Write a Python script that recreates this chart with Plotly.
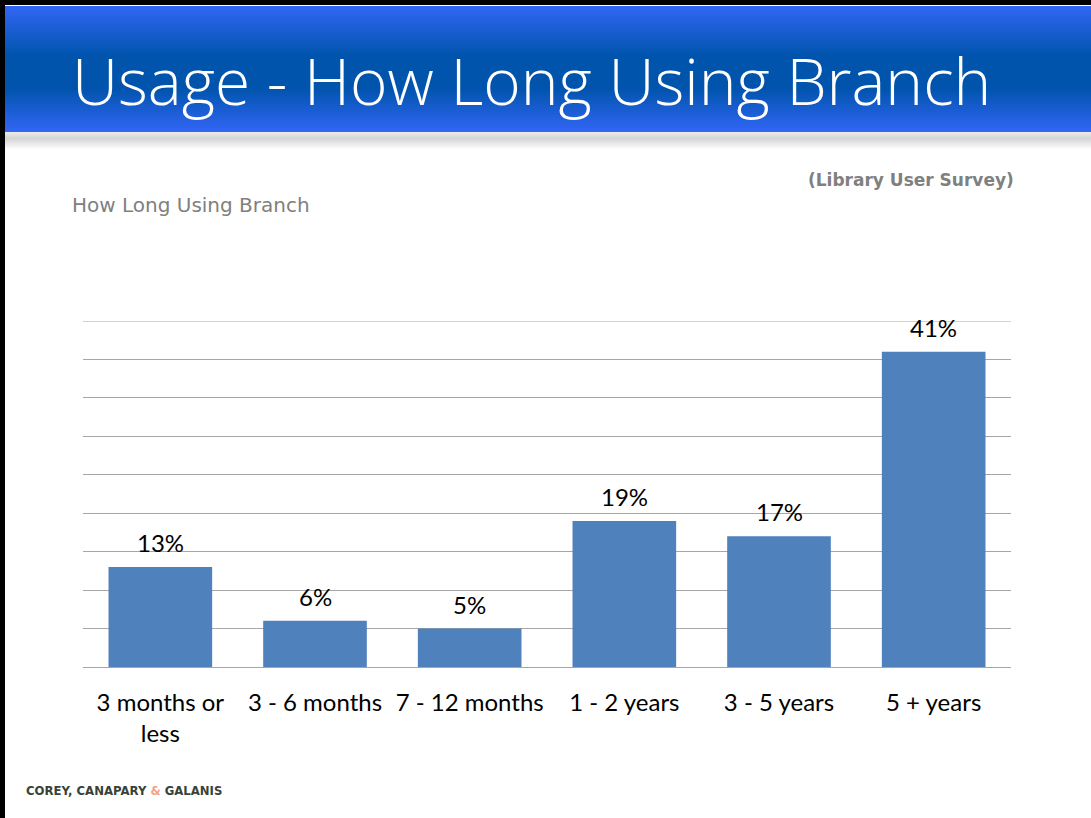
import plotly.graph_objects as go

# Survey results: how long respondents have been using the branch
categories = ["3 months or<br>less", "3 - 6 months", "7 - 12 months",
              "1 - 2 years", "3 - 5 years", "5 + years"]
shares = [13, 6, 5, 19, 17, 41]
value_labels = ["13%", "6%", "5%", "19%", "17%", "41%"]
y_max = 45

W, H = 1091, 818


def py(pix):
    """Convert a pixel row (from top) to paper y."""
    return 1 - pix / H


def px(pix):
    return pix / W


def lerp(c1, c2, t):
    return "rgb({},{},{})".format(*[round(a + (b - a) * t) for a, b in zip(c1, c2)])


fig = go.Figure(go.Bar(
    x=categories, y=shares,
    marker=dict(color="#4F81BD", line=dict(width=0)),
    hoverinfo="x+y",
))

shapes = []
# Header band: vertical blue gradient (light - dark - light)
top, bottom = 6, 132
light = (50, 102, 245)
dark = (0, 84, 172)
n = 63
for i in range(n):
    y0 = top + (bottom - top) * i / n
    y1 = top + (bottom - top) * (i + 1) / n + 0.6
    t = (i + 0.5) / n
    if t < 0.4:
        c = lerp(light, dark, t / 0.4)
    elif t < 0.65:
        c = lerp(dark, dark, 0)
    else:
        c = lerp(dark, light, (t - 0.65) / 0.35)
    shapes.append(dict(type="rect", xref="paper", yref="paper",
                       x0=0, x1=1, y0=py(y1), y1=py(y0),
                       fillcolor=c, line=dict(width=0), layer="below"))
# Soft grey shadow under the header
m = 18
for i in range(m):
    y0 = 132 + i
    t = i / (m - 1)
    g = round(212 + (255 - 212) * (abs(t - 0.35) / 0.65 if t > 0.35 else (0.35 - t) / 0.35 * 0.5))
    shapes.append(dict(type="rect", xref="paper", yref="paper",
                       x0=0, x1=1, y0=py(y0 + 1.05), y1=py(y0),
                       fillcolor=f"rgb({g},{g},{g})", line=dict(width=0), layer="below"))
# Black frame on the left and top edges
shapes.append(dict(type="rect", xref="paper", yref="paper", x0=0, x1=px(5),
                   y0=0, y1=1, fillcolor="#000000", line=dict(width=0)))
shapes.append(dict(type="rect", xref="paper", yref="paper", x0=0, x1=1,
                   y0=py(5), y1=1, fillcolor="#000000", line=dict(width=0)))
# Top gridline at the axis maximum
shapes.append(dict(type="line", xref="x domain", yref="y", x0=0, x1=1,
                   y0=y_max, y1=y_max, line=dict(color="#a6a6a6", width=1),
                   layer="below"))

annotations = [
    dict(text="Usage - How Long Using Branch", xref="paper", yref="paper",
         x=px(70), y=py(80), xanchor="left", yanchor="middle", showarrow=False,
         font=dict(family="Open Sans, Noto Sans, sans-serif", size=64,
                   color="#ffffff", weight=300)),
    dict(text="(Library User Survey)", xref="paper", yref="paper",
         x=px(1016), y=py(180), xanchor="right", yanchor="middle", showarrow=False,
         font=dict(family="DejaVu Sans, sans-serif", size=17, color="#808080",
                   weight="bold")),
    dict(text="How Long Using Branch", xref="paper", yref="paper",
         x=px(70), y=py(205), xanchor="left", yanchor="middle", showarrow=False,
         font=dict(family="DejaVu Sans, sans-serif", size=20, color="#808080")),
    dict(text="<b>COREY, CANAPARY <span style='color:#F2A28A'>&amp;</span> GALANIS</b>",
         xref="paper", yref="paper",
         x=px(24), y=py(791), xanchor="left", yanchor="middle", showarrow=False,
         font=dict(family="DejaVu Sans, sans-serif", size=11.7, color="#3a4238")),
]
# Value labels above each bar
for cat, val, lab in zip(categories, shares, value_labels):
    annotations.append(dict(
        text=lab, x=cat, y=val, xref="x", yref="y",
        xanchor="center", yanchor="bottom", yshift=8, showarrow=False,
        font=dict(family="Lato, sans-serif", size=24, color="#000000"),
    ))

fig.update_layout(
    width=W, height=H,
    margin=dict(l=0, r=0, t=0, b=0),
    paper_bgcolor="#ffffff", plot_bgcolor="#ffffff",
    showlegend=False,
    bargap=0.33,
    shapes=shapes,
    annotations=annotations,
    xaxis=dict(domain=[px(83), px(1011)], showgrid=False, showline=True,
               linecolor="#a6a6a6", linewidth=1, ticks="", ticklabelstandoff=14,
               tickfont=dict(family="Lato, sans-serif", size=24,
                             color="#000000"),
               fixedrange=True),
    yaxis=dict(domain=[py(667), py(321)], range=[0, y_max], dtick=5,
               showgrid=True, gridcolor="#a6a6a6", gridwidth=1,
               showticklabels=False, zeroline=False, showline=False,
               fixedrange=True),
)

fig.write_html("out.html")
